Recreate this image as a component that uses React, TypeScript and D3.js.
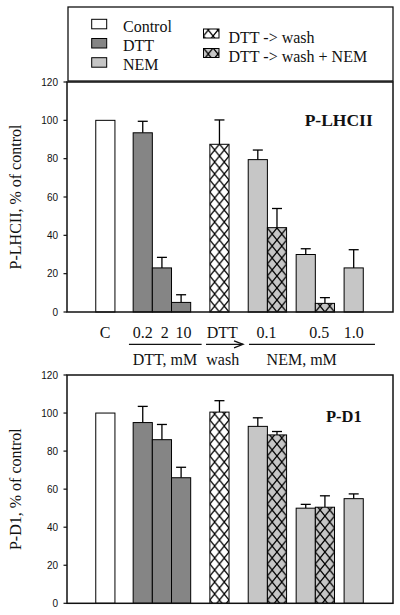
import React from "react";
import * as d3 from "d3";

// ---- data ----
const categories = [
  "Control", "DTT 0.2", "DTT 2", "DTT 10", "DTT -> wash",
  "NEM 0.1", "DTT -> wash + NEM 0.1", "NEM 0.5", "DTT -> wash + NEM 0.5", "NEM 1.0",
];
const treatments = ["control", "dtt", "dtt", "dtt", "wash", "nem", "washnem", "nem", "washnem", "nem"];
const slotPos = [1.5, 3.45, 4.45, 5.45, 7.45, 9.45, 10.45, 11.95, 12.95, 14.45];
const lhcValues = [100, 93.5, 23, 5, 87.5, 79.5, 44, 30, 4.5, 23];
const lhcErrors = [0, 6, 5.5, 4, 12.7, 5, 10, 3, 3, 9.5];
const d1Values = [100, 95, 86, 66, 100.5, 93, 88.5, 50, 50.5, 55];
const d1Errors = [0, 8.5, 8, 5.5, 6, 4.5, 1.8, 2, 6, 2.5];
const yTicks = [0, 20, 40, 60, 80, 100, 120];
const xTickLabels = ["C", "0.2", "2", "10", "DTT", "0.1", "0.5", "1.0"];
const xTickSlots = [1.98, 3.95, 5.1, 6.08, 8.1, 10.4, 13.15, 14.95];
const xGroupLabels = ["DTT, mM", "wash", "NEM, mM"];
const xGroupSlots = [5.11, 8.12, 12.24];
const legendLeft = ["Control", "DTT", "NEM"];
const legendRight = ["DTT -> wash", "DTT -> wash + NEM"];

const SERIF = "'Liberation Serif', 'Times New Roman', serif";
const SANS = "'Liberation Sans', Arial, sans-serif";
const DTT_FILL = "#858585";
const NEM_FILL = "#c6c6c6";

const x = d3.scaleLinear().domain([0, 17]).range([67, 393]);
const bw = x(1) - x(0);

function fillFor(t: string, id: string) {
  if (t === "control") return "#ffffff";
  if (t === "dtt") return DTT_FILL;
  if (t === "nem") return NEM_FILL;
  return `url(#${id})`;
}

function Hatch({ id, x0, bg }: { id: string; x0: number; bg: string }) {
  const w = bw / 2;
  const h = 12;
  return (
    <pattern id={id} patternUnits="userSpaceOnUse" x={x0} y={0} width={w} height={h}>
      <rect width={w} height={h} fill={bg} />
      <path
        d={`M${-w},${-h}L${2 * w},${2 * h}M${2 * w},${-h}L${-w},${2 * h}`}
        stroke="#000"
        strokeWidth={1.3}
        fill="none"
      />
    </pattern>
  );
}

function Panel({
  name, values, errors, top, bottom, label, titleY, titleSize, titleRight,
}: {
  name: string; values: number[]; errors: number[]; top: number; bottom: number;
  label: string; titleY: number; titleSize: number; titleRight: number;
}) {
  const y = d3.scaleLinear().domain([0, 120]).range([bottom, top]);
  const cy = (top + bottom) / 2;
  return (
    <g>
      <defs>
        {treatments.map((t, i) =>
          t === "wash" || t === "washnem" ? (
            <Hatch key={i} id={`${name}-h${i}`} x0={x(slotPos[i])} bg={t === "wash" ? "#fff" : NEM_FILL} />
          ) : null
        )}
      </defs>
      {values.map((v, i) =>
        errors[i] > 0 ? (
          <g key={`e${i}`} stroke="#000" strokeWidth={1.3}>
            <line x1={x(slotPos[i] + 0.5)} x2={x(slotPos[i] + 0.5)} y1={y(v)} y2={y(v + errors[i])} />
            <line x1={x(slotPos[i] + 0.5) - 5} x2={x(slotPos[i] + 0.5) + 5} y1={y(v + errors[i])} y2={y(v + errors[i])} />
          </g>
        ) : null
      )}
      {values.map((v, i) => (
        <rect
          key={`b${i}`}
          x={x(slotPos[i])}
          y={y(v)}
          width={bw}
          height={y(0) - y(v)}
          fill={fillFor(treatments[i], `${name}-h${i}`)}
          stroke="#000"
          strokeWidth={1}
        >
          <title>{categories[i]}</title>
        </rect>
      ))}
      <rect x={x(0)} y={top} width={x(17) - x(0)} height={bottom - top} fill="none" stroke="#111" strokeWidth={1.5} />
      {yTicks.map((t) => (
        <g key={t}>
          <line x1={x(0) - 3.5} x2={x(0)} y1={y(t)} y2={y(t)} stroke="#111" strokeWidth={1.2} />
          <text x={x(0) - 9} y={y(t)} dy="0.35em" textAnchor="end" fontFamily={SANS} fontSize={10} fill="#111">
            {t}
          </text>
        </g>
      ))}
      <text
        transform={`translate(20.5,${cy}) rotate(-90)`}
        textAnchor="middle"
        fontFamily={SERIF}
        fontSize={16}
        fill="#111"
      >
        {label}
      </text>
      <text x={titleRight} y={titleY} textAnchor="end" fontFamily={SERIF} fontWeight="bold" fontSize={titleSize} fill="#111">
        {name}
      </text>
    </g>
  );
}

export default function App() {
  const rowY = 337.5;
  const lineY = 344.3;
  return (
    <svg
      width={400}
      height={615}
      style={{ position: "absolute", left: 0, top: 0, display: "block", background: "#fff" }}
    >
      <rect width={400} height={615} fill="#fff" />
      <rect x={68} y={7} width={325} height={74} fill="none" stroke="#111" strokeWidth={1.3} />
      <defs>
        <Hatch id="leg-h0" x0={203.5} bg="#fff" />
        <Hatch id="leg-h1" x0={203.5} bg={NEM_FILL} />
      </defs>
      {legendLeft.map((l, i) => (
        <g key={l}>
          <rect
            x={91.7}
            y={19.3 + i * 19.2}
            width={15}
            height={9.5}
            fill={i === 0 ? "#fff" : i === 1 ? DTT_FILL : NEM_FILL}
            stroke="#000"
            strokeWidth={1}
          />
          <text x={123} y={32 + i * 19.2} fontFamily={SERIF} fontSize={16} fill="#111">
            {l}
          </text>
        </g>
      ))}
      {legendRight.map((l, i) => (
        <g key={l}>
          <rect x={203.5} y={29 + i * 19.5} width={15.5} height={9} fill={`url(#leg-h${i})`} stroke="#000" strokeWidth={1} />
          <text x={228.5} y={43.2 + i * 19.2} fontFamily={SERIF} fontSize={16} fill="#111">
            {l}
          </text>
        </g>
      ))}

      <Panel
        name="P-LHCII"
        values={lhcValues}
        errors={lhcErrors}
        top={82}
        bottom={312}
        label="P-LHCII, % of control"
        titleY={125.5}
        titleSize={17.5}
        titleRight={372.7}
      />

      {xTickLabels.map((t, i) => (
        <text key={t + i} x={x(xTickSlots[i])} y={rowY} textAnchor="middle" fontFamily={SERIF} fontSize={16} fill="#111">
          {t}
        </text>
      ))}
      <g stroke="#111" strokeWidth={1.3} fill="none">
        <line x1={x(3.23)} x2={x(7.02)} y1={lineY} y2={lineY} />
        <line x1={x(7.25)} x2={x(9.18)} y1={lineY} y2={lineY} />
        <path d={`M${x(9.18) - 9},${lineY - 3.5}L${x(9.18)},${lineY}L${x(9.18) - 9},${lineY + 3.5}`} />
        <line x1={x(9.49)} x2={x(16.06)} y1={lineY} y2={lineY} />
      </g>
      {xGroupLabels.map((t, i) => (
        <text key={t} x={x(xGroupSlots[i])} y={365} textAnchor="middle" fontFamily={SERIF} fontSize={16} fill="#111">
          {t}
        </text>
      ))}

      <Panel
        name="P-D1"
        values={d1Values}
        errors={d1Errors}
        top={375}
        bottom={603.3}
        label="P-D1, % of control"
        titleY={421.7}
        titleSize={16.5}
        titleRight={361.7}
      />
    </svg>
  );
}
